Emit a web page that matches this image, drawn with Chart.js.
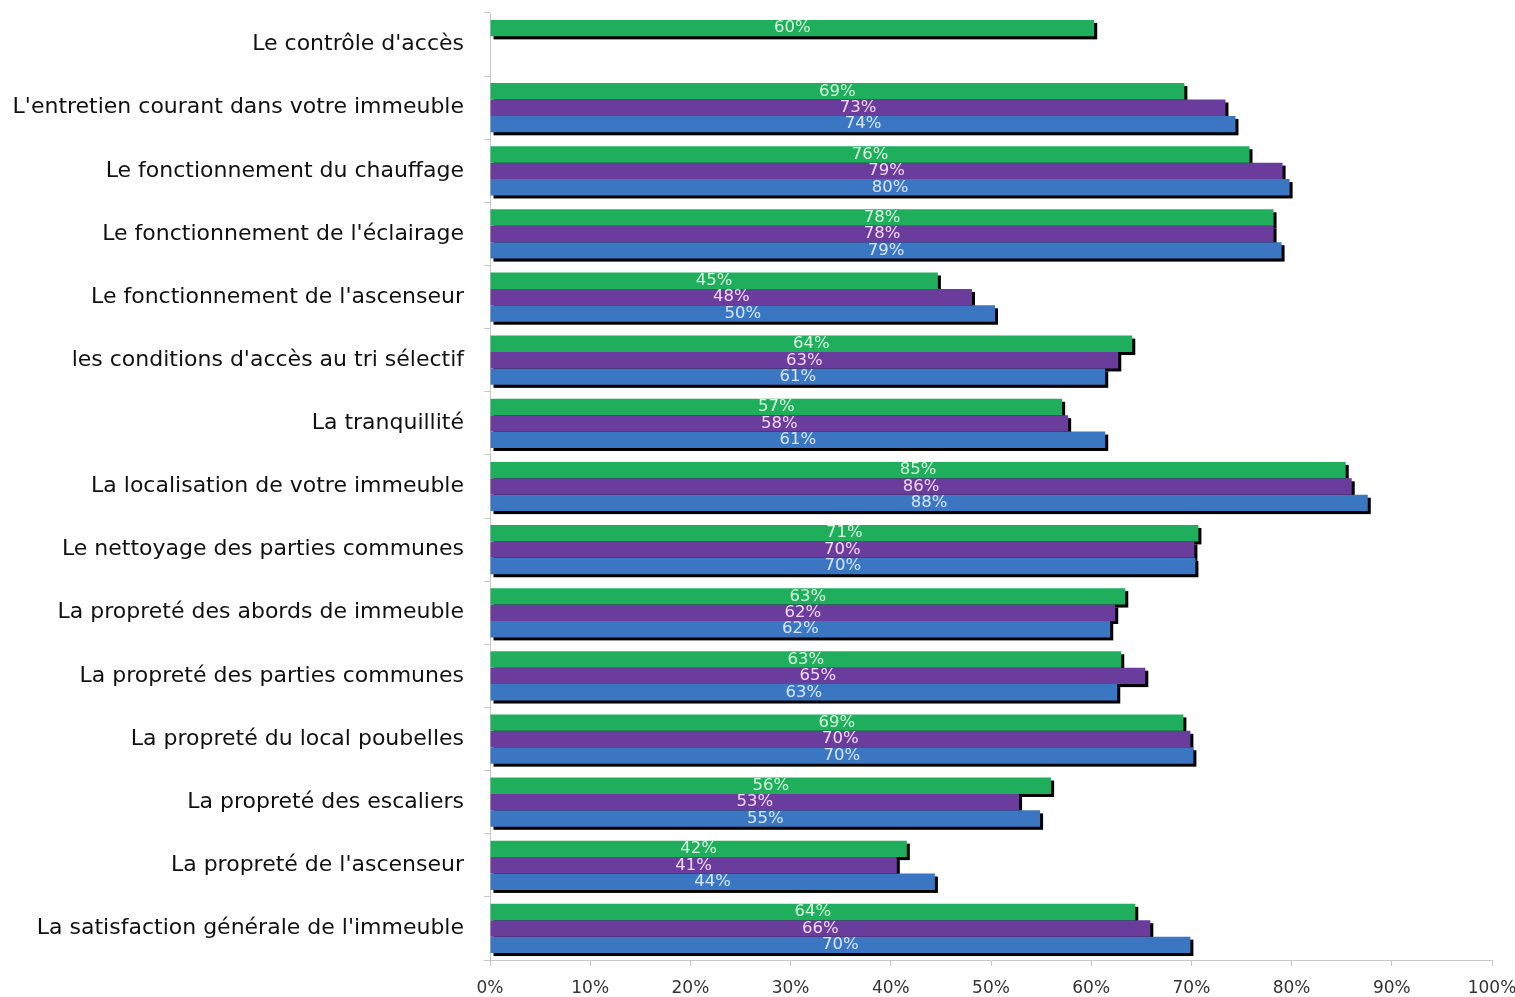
<!DOCTYPE html>
<html lang="fr">
<head>
    <meta charset="UTF-8">
    <title>Satisfaction</title>
    <style>
        html, body {
            margin: 0;
            padding: 0;
            background: #fff;
        }
        .chart-container {
            width: 1515px;
            height: 997px;
        }
    </style>
    <script src="https://cdn.jsdelivr.net/npm/chart.js@4.4.1/dist/chart.umd.min.js"></script>
</head>
<body>
    <div class="chart-container">
        <canvas id="barChart"></canvas>
    </div>

    <script>
        const categories = [
            "Le contrôle d'accès",
            "L'entretien courant dans votre immeuble",
            "Le fonctionnement du chauffage",
            "Le fonctionnement de l'éclairage",
            "Le fonctionnement de l'ascenseur",
            "les conditions d'accès au tri sélectif",
            "La tranquillité",
            "La localisation de votre immeuble",
            "Le nettoyage des parties communes",
            "La propreté des abords de immeuble",
            "La propreté des parties communes",
            "La propreté du local poubelles",
            "La propreté des escaliers",
            "La propreté de l'ascenseur",
            "La satisfaction générale de l'immeuble"
        ];

        const greenValues  = [60.3, 69.3, 75.8, 78.2, 44.7, 64.1, 57.1, 85.4, 70.7, 63.4, 63.0, 69.2, 56.0, 41.6, 64.4];
        const purpleValues = [null, 73.4, 79.1, 78.2, 48.1, 62.7, 57.7, 86.0, 70.3, 62.4, 65.4, 69.9, 52.8, 40.6, 65.9];
        const blueValues   = [null, 74.4, 79.8, 79.0, 50.4, 61.4, 61.4, 87.6, 70.4, 61.9, 62.6, 70.2, 54.9, 44.4, 69.9];

        const xTicks = [0, 10, 20, 30, 40, 50, 60, 70, 80, 90, 100];

        const labelColors = ['#d4f5dc', '#f3d6f3', '#d6e6ff'];

        // black drop shadow behind every bar
        const shadowPlugin = {
            id: 'barShadow',
            beforeDatasetsDraw(chart) {
                const ctx = chart.ctx;
                ctx.save();
                ctx.fillStyle = '#000';
                chart.data.datasets.forEach((ds, i) => {
                    chart.getDatasetMeta(i).data.forEach((bar, j) => {
                        if (ds.data[j] == null) return;
                        const p = bar.getProps(['x', 'y', 'base', 'height'], true);
                        ctx.fillRect(p.base + 3, p.y - p.height / 2 + 3, p.x - p.base, p.height);
                    });
                });
                ctx.restore();
            }
        };

        // value labels in the middle of each bar
        const valueLabels = {
            id: 'valueLabels',
            afterDatasetsDraw(chart) {
                const ctx = chart.ctx;
                ctx.save();
                ctx.font = '16.5px "DejaVu Sans"';
                ctx.textAlign = 'center';
                ctx.textBaseline = 'middle';
                chart.data.datasets.forEach((ds, i) => {
                    ctx.fillStyle = labelColors[i];
                    chart.getDatasetMeta(i).data.forEach((bar, j) => {
                        const v = ds.data[j];
                        if (v == null) return;
                        const p = bar.getProps(['x', 'y', 'base'], true);
                        ctx.fillText(Math.round(v) + '%', (p.x + p.base) / 2, p.y);
                    });
                });
                ctx.restore();
            }
        };

        function makeFill(color1, color2) {
            return function(context) {
                const bar = context.element;
                if (!bar || bar.y == null || !bar.height) return color1;
                const g = context.chart.ctx.createLinearGradient(0, bar.y - bar.height / 2, 0, bar.y + bar.height / 2);
                g.addColorStop(0, color2);
                g.addColorStop(0.5, color1);
                g.addColorStop(1, color1);
                return g;
            };
        }

        function noPadding(scale) {
            scale.paddingTop = 0;
            scale.paddingBottom = 0;
            scale.paddingLeft = 0;
            scale.paddingRight = 0;
        }

        const ctx = document.getElementById('barChart').getContext('2d');
        new Chart(ctx, {
            type: 'bar',
            data: {
                labels: categories,
                datasets: [
                    { label: 'A', data: greenValues, backgroundColor: makeFill('#1fae5c', '#34be6c') },
                    { label: 'B', data: purpleValues, backgroundColor: makeFill('#6a3d9c', '#7a4cac') },
                    { label: 'C', data: blueValues, backgroundColor: makeFill('#3a76c2', '#4a88d2') }
                ]
            },
            options: {
                indexAxis: 'y',
                responsive: true,
                maintainAspectRatio: false,
                animation: false,
                categoryPercentage: 0.78,
                barPercentage: 1.0,
                layout: {
                    padding: { top: 13, right: 23, bottom: 0, left: 0 }
                },
                plugins: {
                    legend: { display: false },
                    tooltip: { enabled: false }
                },
                scales: {
                    x: {
                        min: 0,
                        max: 100,
                        afterBuildTicks: function(scale) {
                            scale.ticks = xTicks.map(v => ({ value: v }));
                        },
                        afterFit: function(scale) {
                            scale.height = 37;
                            noPadding(scale);
                        },
                        grid: {
                            drawOnChartArea: false,
                            drawTicks: true,
                            tickLength: 6,
                            color: '#c8c8c8'
                        },
                        border: { color: '#c8c8c8' },
                        ticks: {
                            padding: 12,
                            color: '#333',
                            font: { family: '"DejaVu Sans"', size: 17 },
                            callback: v => v + '%'
                        }
                    },
                    y: {
                        afterFit: function(scale) {
                            scale.width = 490;
                            noPadding(scale);
                        },
                        grid: {
                            offset: true,
                            drawOnChartArea: false,
                            drawTicks: true,
                            tickLength: 6,
                            color: '#c8c8c8'
                        },
                        border: { color: '#c8c8c8' },
                        ticks: {
                            padding: 20,
                            color: '#111',
                            font: { family: '"DejaVu Sans"', size: 22 }
                        }
                    }
                }
            },
            plugins: [shadowPlugin, valueLabels]
        });
    </script>
</body>
</html>
